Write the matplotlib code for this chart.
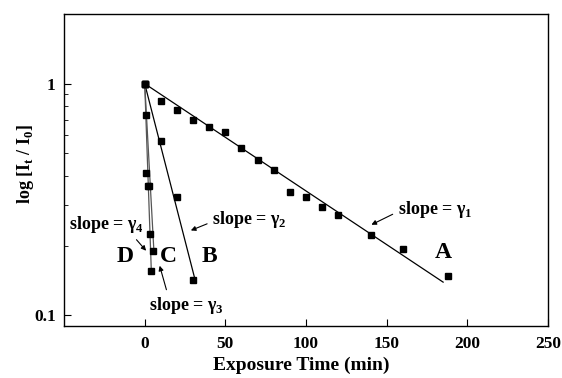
import matplotlib.pyplot as plt
from matplotlib.ticker import LogLocator, NullFormatter, FixedLocator

plt.rcParams['font.family'] = ['Liberation Serif', 'DejaVu Serif']
plt.rcParams['font.weight'] = 'bold'

# series A (slow decay)
a_x = [0, 10, 20, 30, 40, 50, 60, 70, 80, 90, 100, 110, 120, 140, 160, 188]
a_y = [1.0, 0.84, 0.77, 0.70, 0.65, 0.62, 0.53, 0.47, 0.425, 0.342, 0.325,
       0.293, 0.271, 0.222, 0.193, 0.148]
# series B
b_x = [0, 10, 20, 30]
b_y = [1.0, 0.566, 0.324, 0.142]
# series C
c_x = [0, 2.6, 5.3]
c_y = [1.0, 0.36, 0.19]
# series D
d_x = [0, 1.0, 1.0, 2.0, 3.2, 4.1]
d_y = [1.0, 0.73, 0.41, 0.36, 0.224, 0.156]

# fitted lines (end points)
fit_a_x = [0, 185]
fit_a_y = [1.0, 0.139]
fit_b_x = [0, 31.6]
fit_b_y = [1.0, 0.139]
fit_c_x = [0, 5.7]
fit_c_y = [1.0, 0.189]
fit_d_x = [0, 4.1]
fit_d_y = [1.0, 0.155]

fig = plt.figure(figsize=(5.62, 3.78), dpi=100)
ax = fig.add_axes([0.114, 0.138, 0.861, 0.825])

for fx, fy in [(fit_a_x, fit_a_y), (fit_b_x, fit_b_y)]:
    ax.plot(fx, fy, color='black', lw=0.9)
for fx, fy in [(fit_c_x, fit_c_y), (fit_d_x, fit_d_y)]:
    ax.plot(fx, fy, color='#555555', lw=0.9)

for sx, sy in [(a_x, a_y), (b_x, b_y), (c_x, c_y), (d_x, d_y)]:
    ax.plot(sx, sy, 's', color='black', ms=5, zorder=3)

ax.set_yscale('log')
ax.set_xlim(-50, 250)
ax.set_ylim(0.09, 2.0)
ax.xaxis.set_major_locator(FixedLocator([0, 50, 100, 150, 200, 250]))
ax.yaxis.set_major_locator(FixedLocator([0.1, 1]))
ax.set_yticklabels(['0.1', '1'])
ax.yaxis.set_minor_locator(LogLocator(base=10, subs=range(2, 10)))
ax.yaxis.set_minor_formatter(NullFormatter())
ax.tick_params(which='both', direction='in', top=False, right=False, labelsize=12.5)
ax.tick_params(axis='x', pad=7)
ax.tick_params(axis='y', pad=6)
ax.tick_params(which='major', length=5)
ax.tick_params(which='minor', length=3)
for s in ax.spines.values():
    s.set_linewidth(1.0)

ax.set_xlabel('Exposure Time (min)', fontsize=14, fontweight='bold')
ax.xaxis.set_label_coords(0.49, -0.1)
ax.set_ylabel(r'log [I$_\mathregular{t}$ / I$_\mathregular{0}$]', fontsize=13,
              fontweight='bold')
ax.yaxis.set_label_coords(-0.058, 0.52)

arr = dict(arrowstyle='-|>', color='black', lw=0.8, mutation_scale=7)
tk = dict(fontsize=13, fontweight='bold', va='center')
ax.annotate('slope = γ$_\\mathregular{1}$', xy=(139, 0.243), xytext=(157, 0.286),
            arrowprops=dict(arr, relpos=(0.0, 0.4)), ha='left', **tk)
ax.annotate('slope = γ$_\\mathregular{2}$', xy=(27, 0.230), xytext=(42, 0.259),
            arrowprops=dict(arr, relpos=(0.0, 0.4)), ha='left', **tk)
ax.annotate('slope = γ$_\\mathregular{3}$', xy=(8.8, 0.168), xytext=(26, 0.11),
            arrowprops=dict(arr, relpos=(0.25, 1.0)), ha='center', **tk)
ax.annotate('slope = γ$_\\mathregular{4}$', xy=(2.0, 0.186), xytext=(-24, 0.247),
            arrowprops=dict(arr, relpos=(0.85, 0.0)), ha='center', **tk)

big = dict(fontsize=17, fontweight='bold', ha='center', va='center')
ax.text(185, 0.186, 'A', **big)
ax.text(40.4, 0.18, 'B', **big)
ax.text(14.9, 0.18, 'C', **big)
ax.text(-12.2, 0.18, 'D', **big)

fig.savefig('out.png', dpi=100)
